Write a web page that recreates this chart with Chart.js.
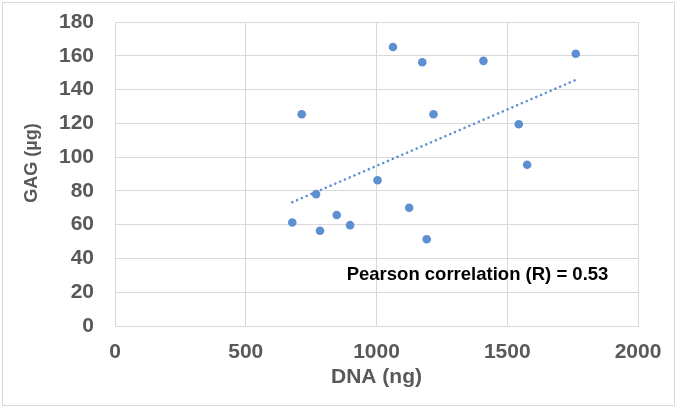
<!DOCTYPE html>
<html>
<head>
<meta charset="utf-8">
<script src="https://cdn.jsdelivr.net/npm/chart.js@4/dist/chart.umd.min.js"></script>
<style>
  html, body { margin: 0; padding: 0; background: #fff; }
  #wrap { position: relative; width: 677px; height: 408px; }
</style>
</head>
<body>
<div id="wrap"><canvas id="c" width="677" height="408"></canvas></div>
<script>
// ---- data ----
const dnaValues = [678, 714, 769, 784, 848, 899, 1004, 1063, 1125, 1175, 1192, 1218, 1409, 1544, 1576, 1762];
const gagValues = [61.3, 125.4, 78.1, 56.4, 65.7, 59.7, 86.3, 165.2, 70, 156.2, 51.4, 125.4, 157, 119.5, 95.5, 161.2];
const trendX = [678, 1762];
const trendY = [73.3, 145.7];
const xTicks = [0, 500, 1000, 1500, 2000];
const yTicks = [0, 20, 40, 60, 80, 100, 120, 140, 160, 180];
const xTitle = 'DNA (ng)';
const yTitle = 'GAG (µg)';
const annotationText = 'Pearson correlation (R) = 0.53';
const annotationPos = [886, 30];

const FONT = "'Liberation Sans', Arial, sans-serif";
const BLUE = '#5E8FD3';
const GRID = '#d9d9d9';

const points = dnaValues.map((x, i) => ({ x: x, y: gagValues[i] }));
const trend = trendX.map((x, i) => ({ x: x, y: trendY[i] }));

const extras = {
  id: 'extras',
  beforeDraw(chart) {
    const ctx = chart.ctx;
    ctx.save();
    ctx.fillStyle = '#fff';
    ctx.fillRect(0, 0, chart.width, chart.height);
    ctx.strokeStyle = GRID;
    ctx.lineWidth = 1;
    ctx.strokeRect(2.5, 2.5, chart.width - 5, chart.height - 5);
    ctx.restore();
  },
  afterDraw(chart) {
    const ctx = chart.ctx;
    const xs = chart.scales.x, ys = chart.scales.y;
    ctx.save();
    // y axis title
    ctx.translate(32, 163);
    ctx.rotate(-Math.PI / 2);
    ctx.font = 'bold 18px ' + FONT;
    ctx.fillStyle = '#595959';
    ctx.textAlign = 'center';
    ctx.textBaseline = 'middle';
    ctx.fillText(yTitle, 0, 0);
    ctx.restore();
    // annotation
    ctx.save();
    ctx.font = 'bold 18.5px ' + FONT;
    ctx.fillStyle = '#000';
    ctx.textAlign = 'left';
    ctx.textBaseline = 'middle';
    ctx.fillText(annotationText, xs.getPixelForValue(annotationPos[0]), ys.getPixelForValue(annotationPos[1]));
    ctx.restore();
  }
};

new Chart(document.getElementById('c'), {
  type: 'scatter',
  data: {
    datasets: [
      {
        label: 'GAG vs DNA',
        data: points,
        backgroundColor: BLUE,
        borderColor: BLUE,
        pointRadius: 4.3,
        pointHoverRadius: 4.3,
        borderWidth: 0,
        order: 1
      },
      {
        label: 'Linear trend',
        type: 'line',
        data: trend,
        borderColor: BLUE,
        borderWidth: 2.6,
        borderDash: [0.01, 5.2],
        borderCapStyle: 'round',
        pointRadius: 0,
        fill: false,
        tension: 0,
        order: 2
      }
    ]
  },
  options: {
    responsive: false,
    animation: false,
    devicePixelRatio: 1,
    layout: { padding: { left: 0, top: 22, right: 39, bottom: 0 } },
    plugins: { legend: { display: false }, tooltip: { enabled: false } },
    scales: {
      x: {
        type: 'linear',
        min: 0, max: 2000,
        afterFit(scale) { scale.height = 82; scale.paddingLeft = 0; scale.paddingRight = 0; },
        afterBuildTicks(scale) { scale.ticks = xTicks.map(v => ({ value: v })); },
        grid: { color: GRID, lineWidth: 1, drawTicks: false },
        border: { color: GRID, width: 1 },
        ticks: { padding: 14, color: '#595959', font: { family: FONT, size: 21, weight: 'bold' }, callback: v => String(v) },
        title: { display: true, text: xTitle, color: '#595959', padding: { top: 0, bottom: 18 }, font: { family: FONT, size: 21, weight: 'bold' } }
      },
      y: {
        type: 'linear',
        min: 0, max: 180,
        afterFit(scale) { scale.width = 115; scale.paddingTop = 0; scale.paddingBottom = 0; },
        afterBuildTicks(scale) { scale.ticks = yTicks.map(v => ({ value: v })); },
        grid: { color: GRID, lineWidth: 1, drawTicks: false },
        border: { color: GRID, width: 1 },
        ticks: { padding: 21, color: '#595959', font: { family: FONT, size: 21, weight: 'bold' }, callback: v => String(v) },
        title: { display: false }
      }
    }
  },
  plugins: [extras]
});
</script>
</body>
</html>
